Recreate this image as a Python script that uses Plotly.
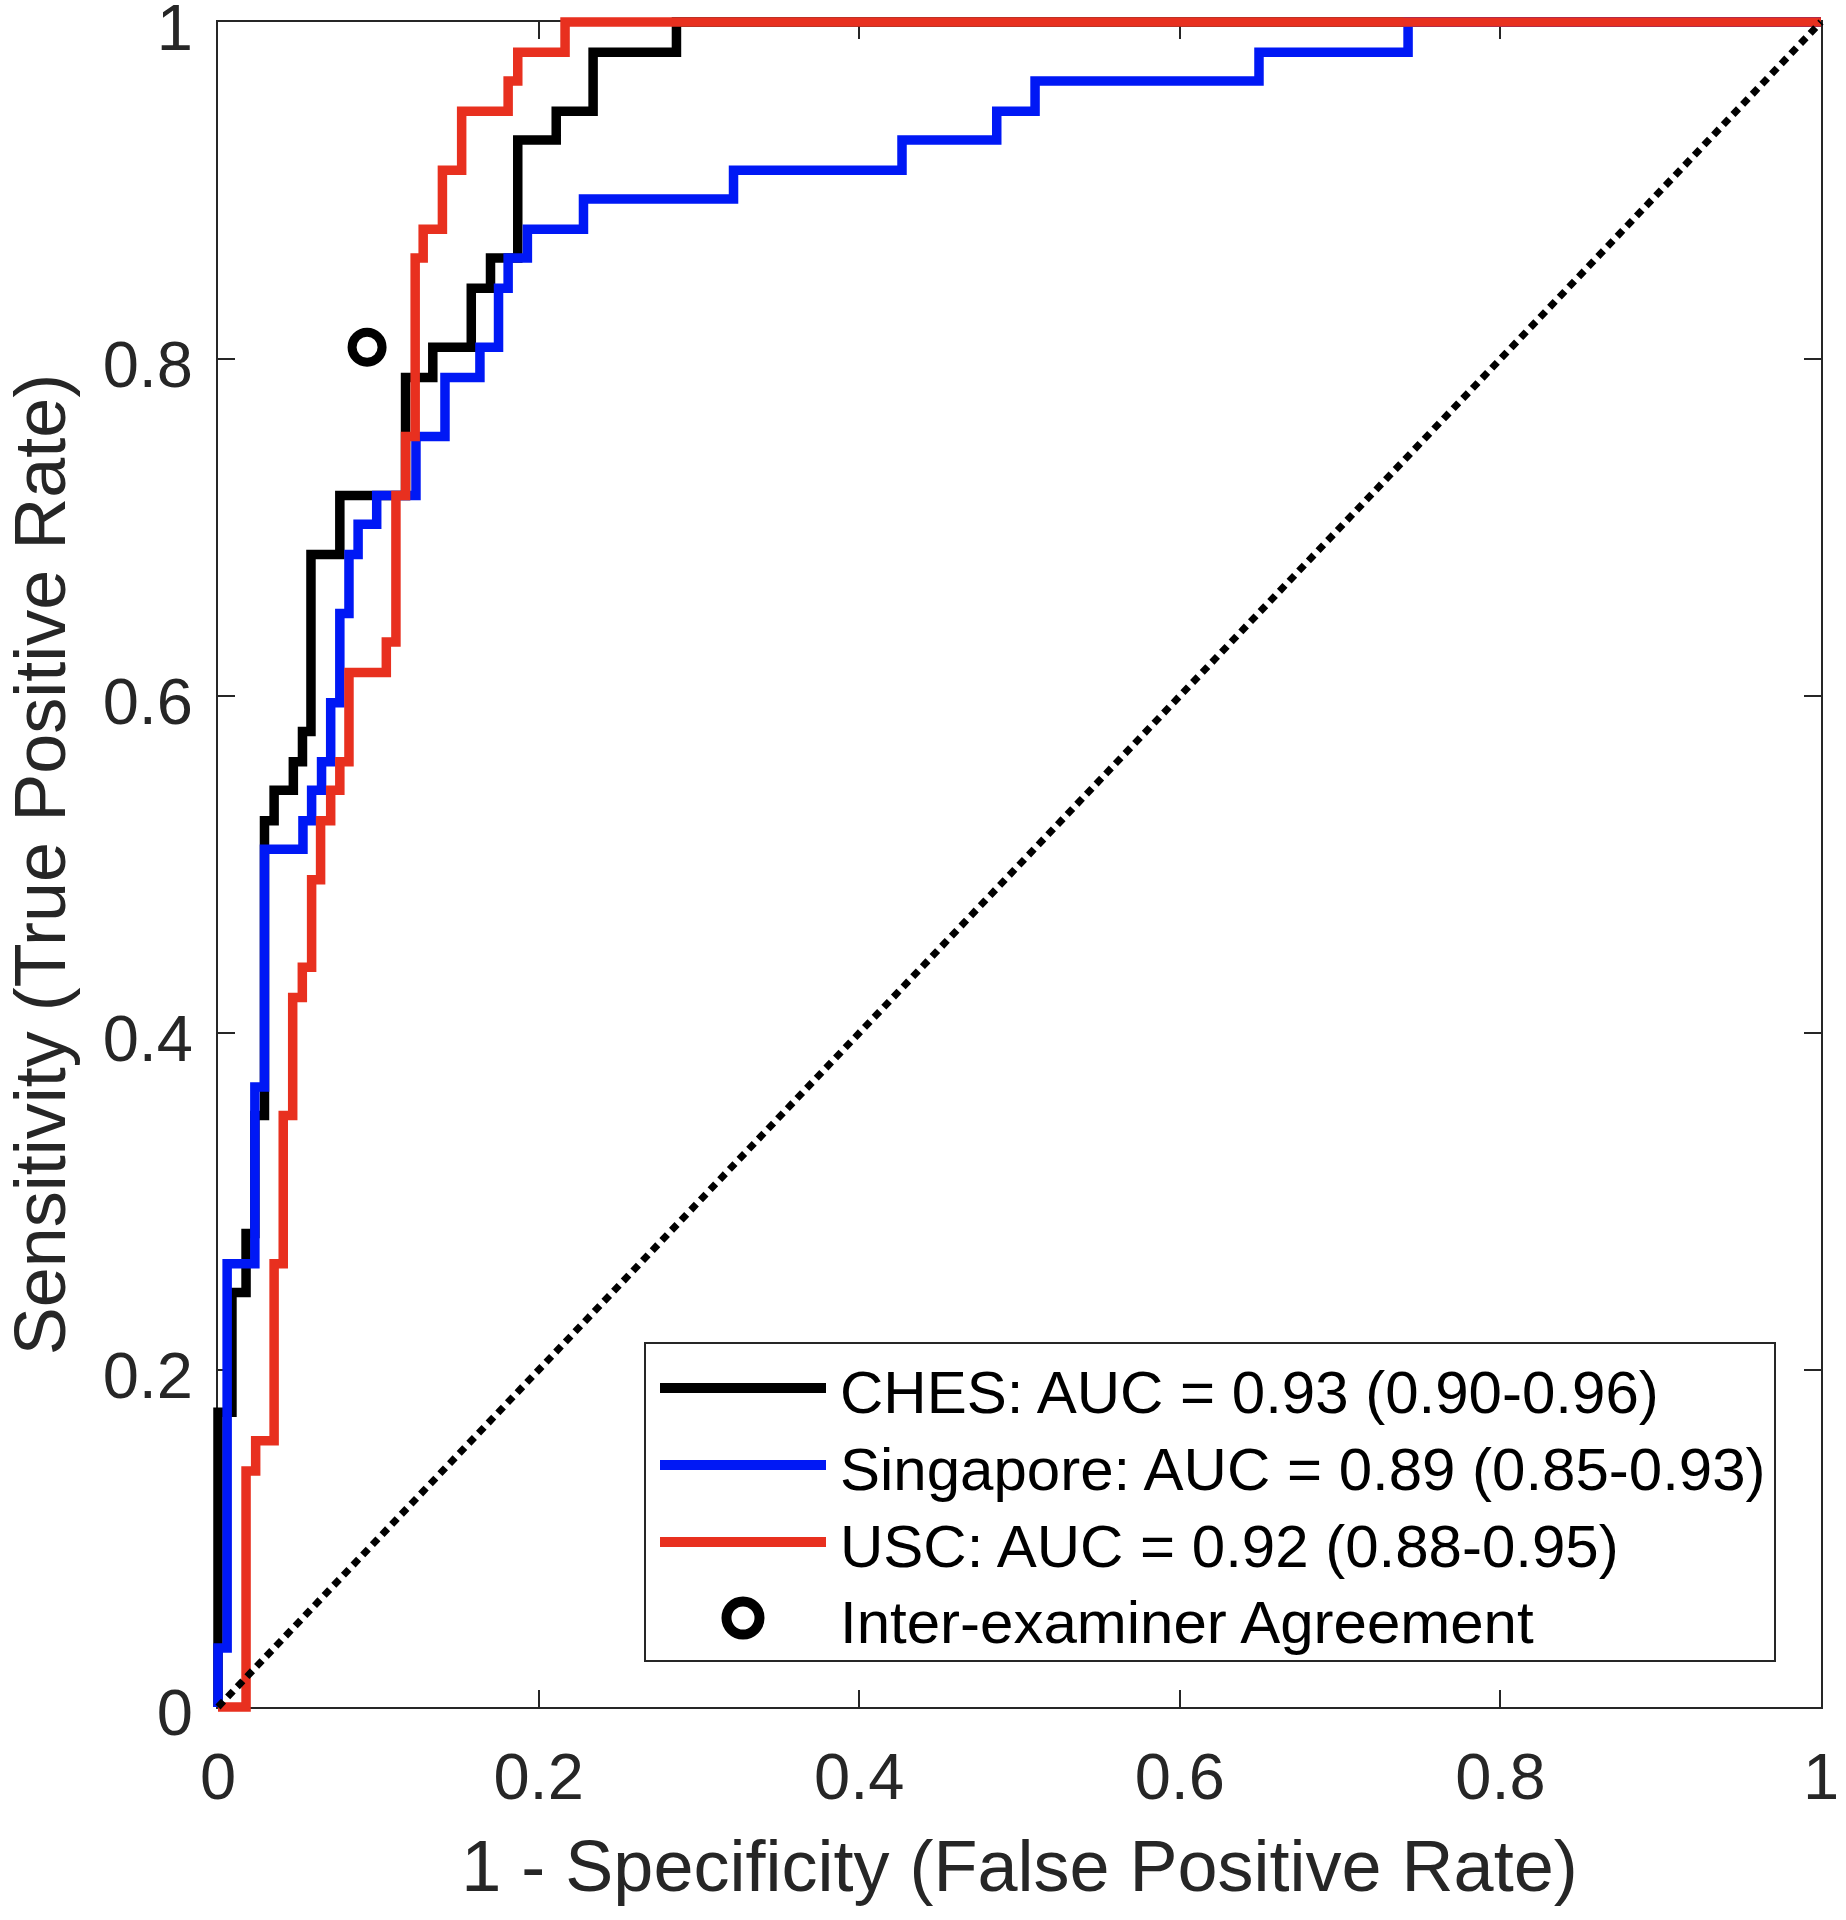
import plotly.graph_objects as go

# ---------------- data ----------------
series_names = ["CHES", "Singapore", "USC"]
auc_labels = [
    "CHES: AUC = 0.93 (0.90-0.96)",
    "Singapore: AUC = 0.89 (0.85-0.93)",
    "USC: AUC = 0.92 (0.88-0.95)",
]
point_label = "Inter-examiner Agreement"

ches_fpr = [0, 0, 0.0087, 0.0175, 0.023, 0.029, 0.035, 0.047, 0.0527, 0.058, 0.076,
            0.117, 0.134, 0.158, 0.170, 0.187, 0.211, 0.234, 0.286, 1]
ches_tpr = [0, 0.175, 0.246, 0.281, 0.351, 0.526, 0.544, 0.561, 0.579, 0.684, 0.719,
            0.789, 0.807, 0.842, 0.860, 0.930, 0.947, 0.982, 1, 1]

sing_fpr = [0, 0, 0.0057, 0.023, 0.029, 0.053, 0.0584, 0.0646, 0.0703, 0.076, 0.0817,
            0.0874, 0.099, 0.1235, 0.1416, 0.1634, 0.175, 0.181, 0.193, 0.228, 0.3216,
            0.4267, 0.4858, 0.5097, 0.6494, 0.7424, 1]
sing_tpr = [0, 0.035, 0.263, 0.368, 0.509, 0.526, 0.544, 0.561, 0.596, 0.649, 0.684,
            0.702, 0.719, 0.754, 0.789, 0.807, 0.842, 0.860, 0.877, 0.895, 0.912,
            0.930, 0.947, 0.965, 0.982, 1, 1]

usc_fpr = [0, 0.0175, 0.0235, 0.035, 0.0407, 0.0466, 0.0526, 0.0584, 0.064, 0.0703, 0.076,
           0.0817, 0.105, 0.111, 0.117, 0.123, 0.128, 0.140, 0.152, 0.181, 0.187, 0.2165, 1]
usc_tpr = [0, 0.140, 0.158, 0.263, 0.351, 0.421, 0.439, 0.491, 0.526, 0.544, 0.561,
           0.614, 0.632, 0.719, 0.754, 0.860, 0.877, 0.912, 0.947, 0.965, 0.982, 1, 1]

agree_fpr = [0.093]
agree_tpr = [0.807]

chance_x = [0, 1]
chance_y = [0, 1]

tick_vals = [0, 0.2, 0.4, 0.6, 0.8, 1]
tick_text = ["0", "0.2", "0.4", "0.6", "0.8", "1"]

# ---------------- styling ----------------
W, H = 1846, 1920
L, R, T, B = 218, 25, 22, 213          # box of the axes (pixels from figure edges)
PW, PH = W - L - R, H - T - B
M = 7                                   # extra room so thick lines on the box edge are not clipped
PWa, PHa = PW + 2 * M, PH + 2 * M
FONT = "Liberation Sans, Arial, Helvetica, sans-serif"
AX = "#262626"
colors = ["#000000", "#0018F5", "#E8301F"]
LW = 9.5

fig = go.Figure()
curves = [(ches_fpr, ches_tpr), (sing_fpr, sing_tpr), (usc_fpr, usc_tpr)]
for (fx, ty), name, col in zip(curves, series_names, colors):
    fig.add_trace(go.Scatter(x=fx, y=ty, mode="lines", name=name, line_shape="hv",
                             xaxis="x2", yaxis="y2",
                             line=dict(color=col, width=LW), showlegend=False))
fig.add_trace(go.Scatter(x=agree_fpr, y=agree_tpr, mode="markers", name=point_label,
                         xaxis="x2", yaxis="y2",
                         marker=dict(symbol="circle-open", size=30, color="black",
                                     line=dict(width=9, color="black")),
                         showlegend=False))
fig.add_trace(go.Scatter(x=chance_x, y=chance_y, mode="lines", showlegend=False,
                         xaxis="x2", yaxis="y2",
                         line=dict(color="black", width=7, dash="8px,6px")))

axis_common = dict(range=[0, 1], tickvals=tick_vals, ticktext=tick_text,
                   ticks="inside", ticklen=17, tickwidth=2, tickcolor=AX,
                   showline=True, linecolor=AX, linewidth=2, mirror="ticks",
                   showgrid=False, zeroline=False, layer="below traces",
                   automargin=False, ticklabeloverflow="allow",
                   tickfont=dict(family=FONT, size=65, color=AX))
ex = M / PW
ey = M / PH
fig.update_layout(
    template="none",
    width=W, height=H, margin=dict(l=L - M, r=R - M, t=T - M, b=B - M, pad=0),
    paper_bgcolor="white", plot_bgcolor="rgba(0,0,0,0)",
    xaxis=dict(**axis_common, domain=[M / PWa, 1 - M / PWa], anchor="y",
               ticklabelstandoff=12,
               title=dict(text="1 - Specificity (False Positive Rate)",
                          font=dict(family=FONT, size=72, color=AX), standoff=29)),
    yaxis=dict(**axis_common, domain=[M / PHa, 1 - M / PHa], anchor="x",
               ticklabelstandoff=10, ticklabelshift=5,
               title=dict(text="Sensitivity (True Positive Rate)",
                          font=dict(family=FONT, size=72, color=AX), standoff=30)),
    xaxis2=dict(domain=[0, 1], range=[-ex, 1 + ex], visible=False, anchor="y2",
                automargin=False, showgrid=False, zeroline=False),
    yaxis2=dict(domain=[0, 1], range=[-ey, 1 + ey], visible=False, anchor="x2",
                automargin=False, showgrid=False, zeroline=False),
    showlegend=False,
)

# ---------------- manual legend (MATLAB style) ----------------
def px_x(X):
    return (X - L) / PW

def px_y(Y):
    return (T + PH - Y) / PH

fig.add_shape(type="rect", xref="x", yref="y", x0=px_x(645), x1=px_x(1775),
              y0=px_y(1661), y1=px_y(1343), line=dict(color=AX, width=2),
              fillcolor="white", layer="above")
rows_Y = [1388, 1465, 1542, 1618]
for i, (lab, col) in enumerate(zip(auc_labels, colors)):
    fig.add_shape(type="line", xref="x", yref="y", x0=px_x(660), x1=px_x(826),
                  y0=px_y(rows_Y[i]), y1=px_y(rows_Y[i]),
                  line=dict(color=col, width=10), layer="above")
    fig.add_annotation(x=px_x(838), y=px_y(rows_Y[i] + 4), xref="x", yref="y",
                       text=lab, showarrow=False, xanchor="left", yanchor="middle",
                       font=dict(family=FONT, size=60, color="black"))
r = 16.5
fig.add_shape(type="circle", xref="x", yref="y",
              x0=px_x(743 - r), x1=px_x(743 + r),
              y0=px_y(rows_Y[3] + r), y1=px_y(rows_Y[3] - r),
              line=dict(color="black", width=10), layer="above")
fig.add_annotation(x=px_x(838), y=px_y(rows_Y[3] + 4), xref="x", yref="y",
                   text=point_label, showarrow=False, xanchor="left", yanchor="middle",
                   font=dict(family=FONT, size=60, color="black"))

fig.write_html("out.html", config={"displayModeBar": False},
               post_script="document.body.style.margin='0';")
